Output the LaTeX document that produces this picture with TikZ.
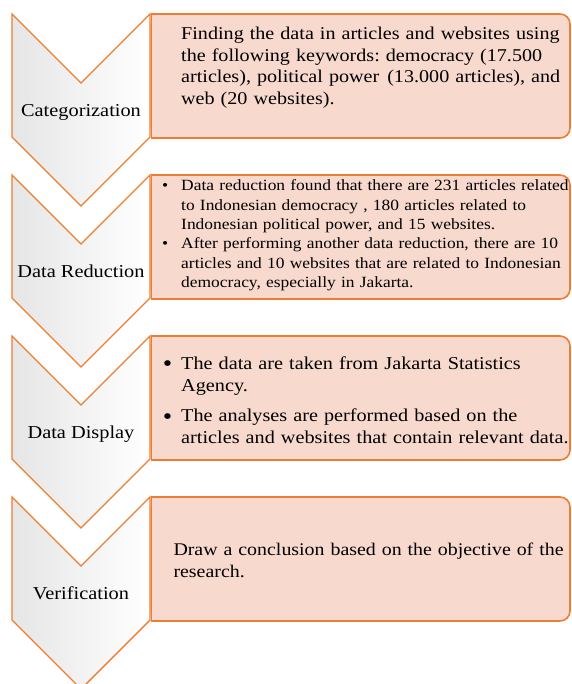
\documentclass[tikz,border=0pt]{standalone}
\usepackage{fontspec}
\setmainfont{Liberation Serif}[FakeStretch=1.118]
\definecolor{orng}{HTML}{ED7D31}
\definecolor{boxfill}{HTML}{F8D9CE}
\newcommand{\bigbul}{\raisebox{-2.5pt}{\fontsize{24}{24}\selectfont\textbullet}}
\begin{document}
\frenchspacing
\begin{tikzpicture}[x=1pt,y=-1pt,
  chev/.style={draw=orng, line width=1.4pt, left color=black!10, middle color=white, right color=white},
  boxst/.style={draw=orng, line width=1.6pt, fill=boxfill, rounded corners=10pt},
  boxedge/.style={draw=orng, line width=1.6pt},
  txt/.style={anchor=north west, inner sep=0pt, text width=440pt, align=left},
  lbl/.style={anchor=base, inner sep=0pt, font=\fontsize{18.2}{20}\selectfont}]
\useasboundingbox (0,0) rectangle (571,684);
% chevrons
\foreach \t in {14,175,336,497}{
  \path[chev] (12,\t) -- (81,\t+69) -- (150,\t) -- (150,\t+123) -- (81,\t+192) -- (12,\t+123) -- cycle;
}
% boxes: right corners rounded, left corners square
\foreach \t in {14,175,336,497}{
  \path[boxst] (151.5,\t) rectangle (570,\t+124);
  \fill[boxfill] (151.5,\t) rectangle (185,\t+124);
  \path[boxedge, line cap=rect] (185,\t) -- (151.5,\t) -- (151.5,\t+124) -- (185,\t+124);
}
% labels
\node[lbl] (l1) at (81,116.7) {Categorization};
\node[lbl] (l2) at (81,277.5) {Data Reduction};
\node[lbl] (l3) at (81,438.2) {Data Display};
\node[lbl] (l4) at (81,599) {Verification};
% texts
\node[txt, font=\fontsize{18}{21.8}\selectfont] (t1) at (181,23.8)
 {\strut Finding the data in articles and websites using\\
  the following keywords: democracy (17.500\\
  articles), political power\hspace{2pt} (13.000 articles), and\\
  web (20 websites).};
\node[txt, font=\fontsize{15.6}{19.4}\selectfont] (t2) at (162,177)
 {\strut\makebox[19pt][l]{\textbullet}Data reduction found that there are 231 articles related\\
  \hspace*{19pt}to Indonesian democracy , 180 articles related to\\
  \hspace*{19pt}Indonesian political power, and 15 websites.\\
  \makebox[19pt][l]{\textbullet}After performing another data reduction, there are 10\\
  \hspace*{19pt}articles and 10 websites that are related to Indonesian\\
  \hspace*{19pt}democracy, especially in Jakarta.};
\node[txt, font=\fontsize{18.1}{22.3}\selectfont] (t3) at (162.7,353.5)
 {\strut\makebox[18.3pt][l]{\bigbul}The data are taken from Jakarta Statistics\\
  \hspace*{18.3pt}Agency.\\[7.7pt]
  \makebox[18.3pt][l]{\bigbul}The analyses are performed based on the\\
  \hspace*{18.3pt}articles and websites that contain relevant data.};
\node[txt, font=\fontsize{17.8}{22.3}\selectfont] (t4) at (173.3,539.4)
 {\strut Draw a conclusion based on the objective of the\\
  research.};
\end{tikzpicture}
\end{document}
